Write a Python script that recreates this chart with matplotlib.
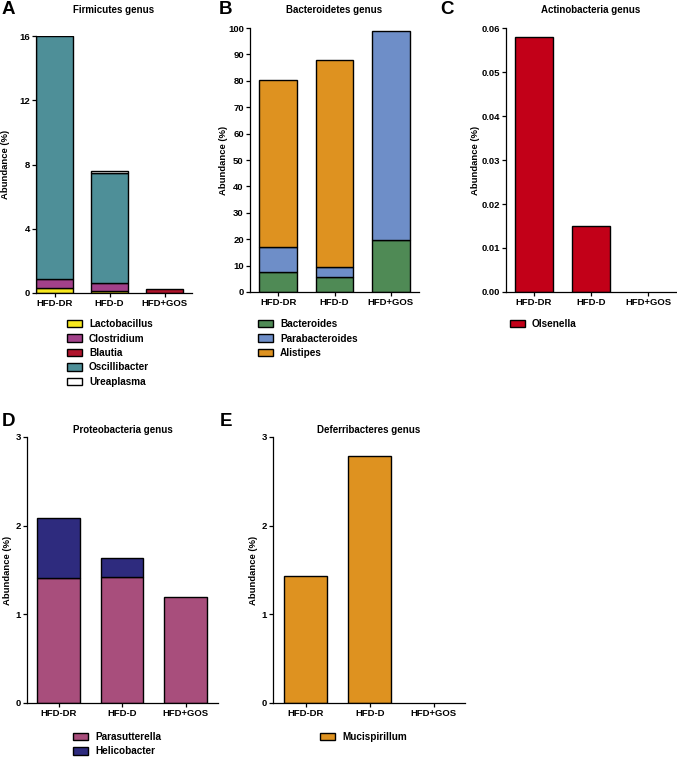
import matplotlib
matplotlib.use("Agg")
from matplotlib import pyplot as plt
from matplotlib.patches import Patch
import numpy as np

plt.rcParams["font.family"] = ["Liberation Sans", "DejaVu Sans"]
plt.rcParams["font.weight"] = "bold"

groups = ["HFD-DR", "HFD-D", "HFD+GOS"]

# A: Firmicutes genus (stacked, bottom to top)
firm_names = ["Lactobacillus", "Clostridium", "Blautia", "Oscillibacter", "Ureaplasma"]
firm_vals = [
    [0.30, 0.15, 0.0],    # Lactobacillus
    [0.60, 0.45, 0.0],    # Clostridium
    [0.0, 0.0, 0.25],     # Blautia
    [15.10, 6.90, 0.0],   # Oscillibacter
    [0.0, 0.12, 0.0],     # Ureaplasma
]
firm_colors = ["#F7E81E", "#A2418A", "#B0142C", "#4E8F98", "#FFFFFF"]

# B: Bacteroidetes genus
bact_names = ["Bacteroides", "Parabacteroides", "Alistipes"]
bact_vals = [
    [7.5, 5.5, 19.7],
    [9.5, 4.1, 79.0],
    [63.2, 78.4, 0.0],
]
bact_colors = ["#4F8A55", "#6E8EC8", "#DE9220"]

# C: Actinobacteria genus
actino_names = ["Olsenella"]
actino_vals = [[0.058, 0.015, 0.0]]
actino_colors = ["#C20018"]

# D: Proteobacteria genus
proteo_names = ["Parasutterella", "Helicobacter"]
proteo_vals = [
    [1.41, 1.42, 1.20],
    [0.68, 0.21, 0.0],
]
proteo_colors = ["#A84E7C", "#2E2B7E"]

# E: Deferribacteres genus
defer_names = ["Mucispirillum"]
defer_vals = [[1.43, 2.79, 0.0]]
defer_colors = ["#DE9220"]

W, H = 677, 757
fig = plt.figure(figsize=(W / 100, H / 100), dpi=100)


def fx(px):
    return px / W


def fy(py):
    return 1 - py / H


def px_axes(box):
    x0, y0, x1, y1 = box
    return fig.add_axes([fx(x0), fy(y1), (x1 - x0) / W, (y1 - y0) / H])


def panel(box, names, vals, colors, title, title_y, letter, letter_xy, ylim,
          yticks, ytl, xlim, legend_xy, ylabel_px):
    ax = px_axes(box)
    x = np.arange(len(groups))
    bottom = np.zeros(len(groups))
    for v, c in zip(vals, colors):
        v = np.array(v)
        mask = v > 0
        ax.bar(x[mask], v[mask], width=0.67, bottom=bottom[mask], color=c,
               edgecolor="black", linewidth=1.0, zorder=2)
        bottom += v
    ax.set_xlim(*xlim)
    ax.set_ylim(*ylim)
    ax.set_yticks(yticks)
    ax.set_yticklabels(ytl)
    ax.set_xticks(x)
    ax.set_xticklabels(groups)
    for s in ["top", "right"]:
        ax.spines[s].set_visible(False)
    for s in ["left", "bottom"]:
        ax.spines[s].set_linewidth(0.9)
    ax.tick_params(axis="both", labelsize=6.8, length=3, width=0.9, pad=1.5)
    ax.set_ylabel("Abundance (%)", fontsize=6.8, fontweight="bold")
    # label is anchored at its right edge; shift so its centre sits at ylabel_px
    ax.yaxis.set_label_coords((ylabel_px + 4.5 - box[0]) / (box[2] - box[0]), 0.5)
    fig.text(fx((box[0] + box[2]) / 2), fy(title_y), title, fontsize=7,
             fontweight="bold", ha="center", va="center")
    fig.text(fx(letter_xy[0]), fy(letter_xy[1]), letter, fontsize=13.5,
             fontweight="bold", va="center", ha="left")
    handles = [Patch(facecolor=c, edgecolor="black", linewidth=1.0) for c in colors]
    fig.legend(handles, names, loc="upper left",
               bbox_to_anchor=(fx(legend_xy[0]), fy(legend_xy[1])),
               frameon=False, fontsize=7.2, handlelength=1.5, handleheight=0.75,
               labelspacing=0.45, handletextpad=0.7, borderpad=0, borderaxespad=0)
    return ax


panel((36, 36, 192, 293), firm_names, firm_vals, firm_colors, "Firmicutes genus", 10,
      "A", (2, 10), (0, 16), [0, 4, 8, 12, 16], ["0", "4", "8", "12", "16"],
      (-0.34, 2.5), (67, 319), 5)

panel((250, 28, 419, 292), bact_names, bact_vals, bact_colors, "Bacteroidetes genus", 10,
      "B", (219, 10), (0, 100), list(range(0, 101, 10)),
      [str(v) for v in range(0, 101, 10)], (-0.5, 2.5), (258, 319), 223)

panel((506, 28, 676, 292), actino_names, actino_vals, actino_colors,
      "Actinobacteria genus", 10, "C", (440, 10), (0, 0.06),
      [0, 0.01, 0.02, 0.03, 0.04, 0.05, 0.06],
      ["0.00", "0.01", "0.02", "0.03", "0.04", "0.05", "0.06"],
      (-0.49, 2.49), (510, 319), 475)

panel((27, 437, 218, 703), proteo_names, proteo_vals, proteo_colors,
      "Proteobacteria genus", 430, "D", (2, 422), (0, 3), [0, 1, 2, 3],
      ["0", "1", "2", "3"], (-0.5, 2.51), (73, 732), 8)

panel((273, 437, 465, 703), defer_names, defer_vals, defer_colors,
      "Deferribacteres genus", 430, "E", (220, 422), (0, 3), [0, 1, 2, 3],
      ["0", "1", "2", "3"], (-0.51, 2.49), (320, 732), 253)

fig.savefig("out.png", dpi=100)
